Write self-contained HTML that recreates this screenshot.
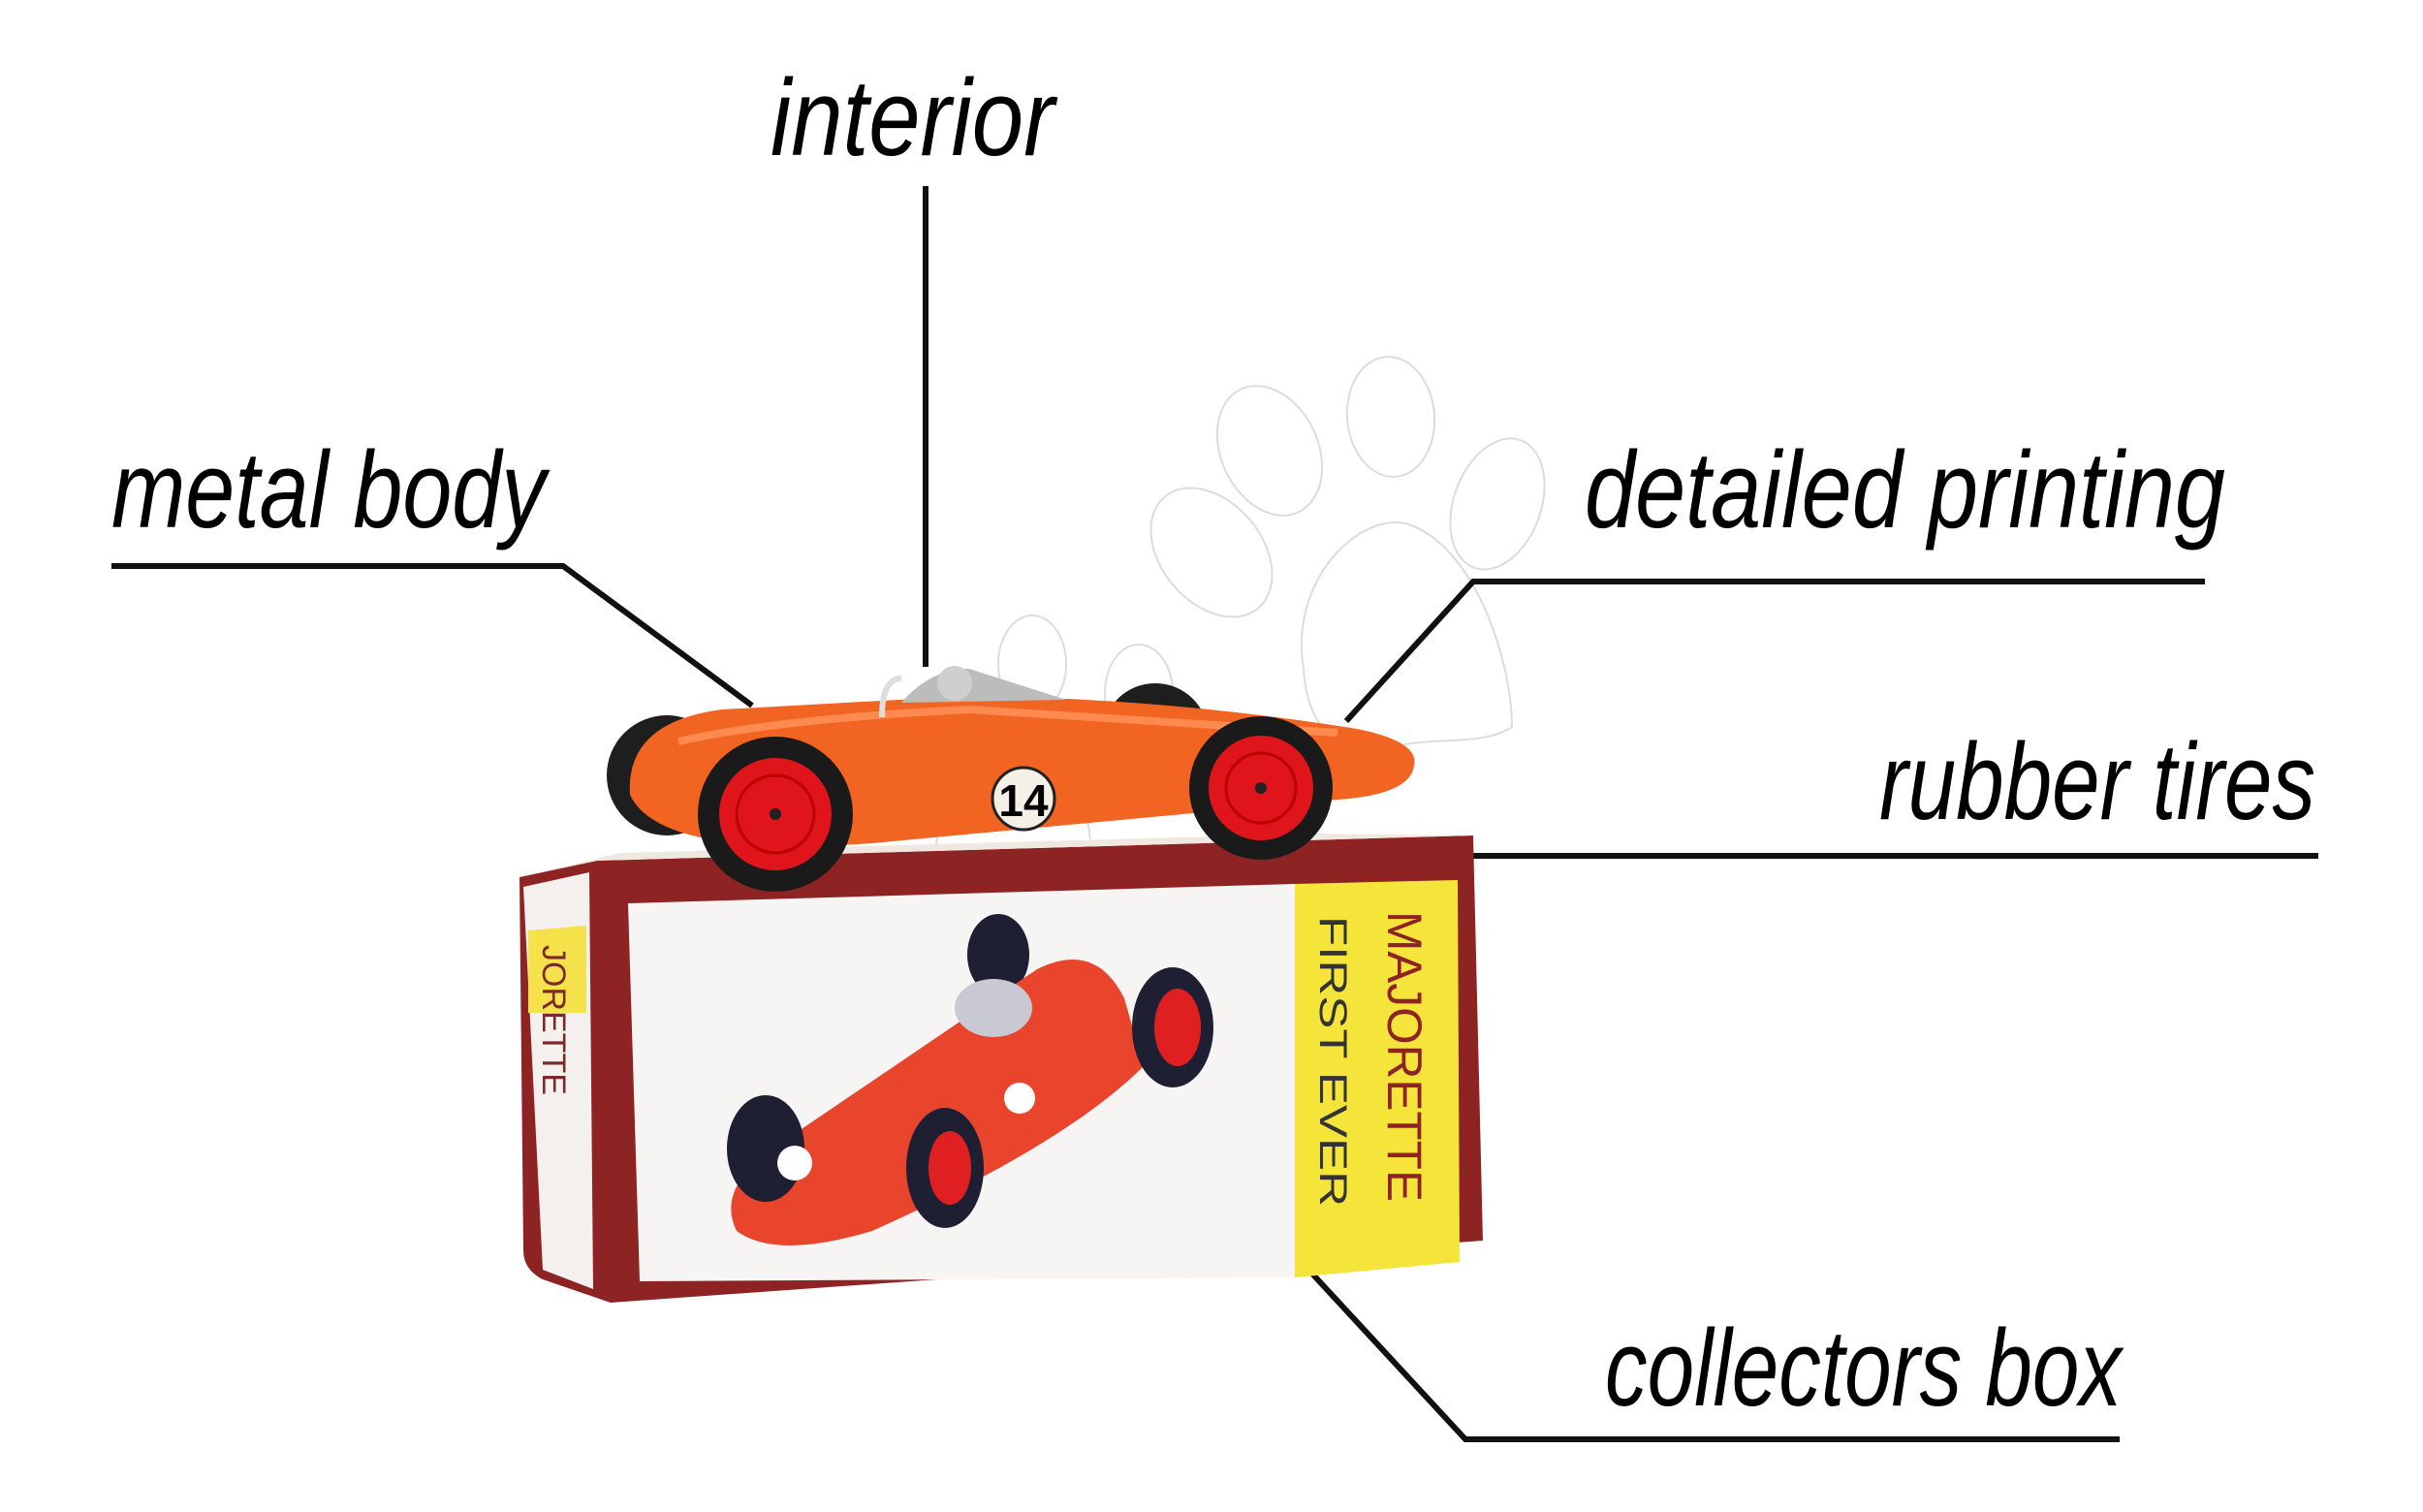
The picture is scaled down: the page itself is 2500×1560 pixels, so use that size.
<!DOCTYPE html>
<html><head><meta charset="utf-8"><style>
html,body{margin:0;padding:0;background:#fff;}
svg{display:block}
text{font-family:"Liberation Sans Narrow","Liberation Sans",sans-serif;font-style:italic;fill:#000}
</style></head><body>
<svg width="2500" height="1560" viewBox="0 0 2500 1560" xmlns="http://www.w3.org/2000/svg">
<!-- paw watermark -->
<g fill="none" stroke="#dcdcdc" stroke-width="2">
<ellipse cx="1435" cy="430" rx="45" ry="62" transform="rotate(-5 1435 430)"/>
<ellipse cx="1310" cy="465" rx="50" ry="70" transform="rotate(-25 1310 465)"/>
<ellipse cx="1545" cy="520" rx="45" ry="70" transform="rotate(20 1545 520)"/>
<ellipse cx="1250" cy="570" rx="52" ry="75" transform="rotate(-40 1250 570)"/>
<path d="M1345 690 C1330 600 1400 530 1450 540 C1520 560 1560 680 1560 750 C1530 770 1480 760 1440 770 C1400 780 1350 770 1345 690Z"/>
<ellipse cx="1065" cy="685" rx="35" ry="50"/>
<ellipse cx="1175" cy="715" rx="35" ry="50"/>
<path d="M980 800 C1000 760 1060 760 1100 800 C1150 860 1120 980 1060 1000 C1000 1010 950 960 960 900Z"/>
</g>

<!-- connector lines -->
<g stroke="#111" stroke-width="6" fill="none">
<polyline points="955,192 955,688"/>
<polyline points="115,584 581,584 776,728"/>
<polyline points="2275,600 1520,600 1389,744"/>
<polyline points="2392,883 1365,883"/>
<polyline points="1352,1312 1512,1485 2187,1485"/>
</g>

<!-- labels -->
<text x="795" y="160" font-size="112" textLength="293" lengthAdjust="spacingAndGlyphs">interior</text>
<text x="115" y="544" font-size="112" textLength="448" lengthAdjust="spacingAndGlyphs">metal body</text>
<text x="1635" y="544" font-size="112" textLength="661" lengthAdjust="spacingAndGlyphs">detailed printing</text>
<text x="1939" y="845" font-size="112" textLength="450" lengthAdjust="spacingAndGlyphs">rubber tires</text>
<text x="1656" y="1450" font-size="112" textLength="533" lengthAdjust="spacingAndGlyphs">collectors box</text>

<!-- box -->
<path d="M536 905 L616 888 L1520 862 L1530 1280 L630 1344 L560 1320 Q540 1310 540 1290 Z" fill="#8e2323"/>
<path d="M540 915 L608 900 L612 1330 L560 1310 Z" fill="#f4f0ee"/>
<path d="M545 960 L605 955 L605 1045 L545 1045 Z" fill="#f5e14a"/>
<text x="0" y="0" font-size="34" style="font-style:normal;fill:#7a2a2a" transform="translate(560,975) rotate(90)">JORETTE</text>
<path d="M648 932 L1336 912 L1336 1318 L660 1322 Z" fill="#f6f5f4"/>
<path d="M1336 912 L1504 908 L1506 1302 L1336 1318 Z" fill="#f5e43a"/>
<text font-size="50" style="font-style:normal;fill:#8e2323" transform="translate(1432,940) rotate(90)" textLength="300" lengthAdjust="spacingAndGlyphs">MAJORETTE</text>
<text font-size="40" style="font-style:normal;fill:#333" transform="translate(1362,945) rotate(90)" textLength="300" lengthAdjust="spacingAndGlyphs">FIRST EVER</text>
<!-- box car picture -->
<g>
<ellipse cx="1030" cy="985" rx="32" ry="42" fill="#1f1f33"/>
<path d="M760 1270 Q740 1230 790 1190 L1070 1000 Q1130 970 1160 1030 L1180 1100 Q1100 1180 900 1270 Q800 1300 760 1270Z" fill="#e8452c"/>
<ellipse cx="1025" cy="1040" rx="40" ry="30" fill="#c9c9d4"/>
<ellipse cx="790" cy="1185" rx="40" ry="55" fill="#1f1f33"/>
<ellipse cx="975" cy="1205" rx="40" ry="62" fill="#1f1f33"/>
<ellipse cx="980" cy="1205" rx="22" ry="38" fill="#e02020"/>
<ellipse cx="1210" cy="1060" rx="42" ry="62" fill="#1f1f33"/>
<ellipse cx="1215" cy="1060" rx="24" ry="40" fill="#e02020"/>
<circle cx="1052" cy="1133" r="16" fill="#fff"/>
<circle cx="820" cy="1200" r="18" fill="#fff"/>
</g>
<!-- top of box -->
<path d="M536 905 L640 880 L1360 860 L1520 862 L616 888 Z" fill="#efe8e0"/>

<!-- car -->
<g>
<circle cx="688" cy="800" r="62" fill="#1e1e1e"/>
<circle cx="1192" cy="760" r="55" fill="#1e1e1e"/>
<path d="M650 820 Q645 745 745 732 L1000 718 Q1200 720 1400 752 Q1465 765 1459 790 Q1455 820 1380 825 L900 870 Q680 885 650 820Z" fill="#f26422"/>
<path d="M700 765 Q800 742 1000 732 L1380 756" stroke="#ff8a50" stroke-width="8" fill="none"/>
<path d="M930 725 Q960 690 1000 690 L1100 722 Z" fill="#bcbcbc"/>
<circle cx="985" cy="705" r="18" fill="#cfcfcf"/>
<path d="M910 740 Q910 700 930 700" stroke="#ddd" stroke-width="6" fill="none"/>
<circle cx="800" cy="840" r="80" fill="#1a1a1a"/>
<circle cx="800" cy="840" r="58" fill="#e0141b"/>
<circle cx="800" cy="840" r="40" fill="none" stroke="#b00" stroke-width="3"/>
<circle cx="800" cy="840" r="6" fill="#222"/>
<circle cx="1301" cy="813" r="74" fill="#1a1a1a"/>
<circle cx="1301" cy="813" r="54" fill="#e0141b"/>
<circle cx="1301" cy="813" r="36" fill="none" stroke="#b00" stroke-width="3"/>
<circle cx="1301" cy="813" r="6" fill="#222"/>
<circle cx="1056" cy="824" r="32" fill="#f4f0e8" stroke="#222" stroke-width="3"/>
<text x="1056" y="842" font-size="46" text-anchor="middle" style="font-style:normal;font-weight:bold">14</text>
</g>
</svg>
</body></html>
